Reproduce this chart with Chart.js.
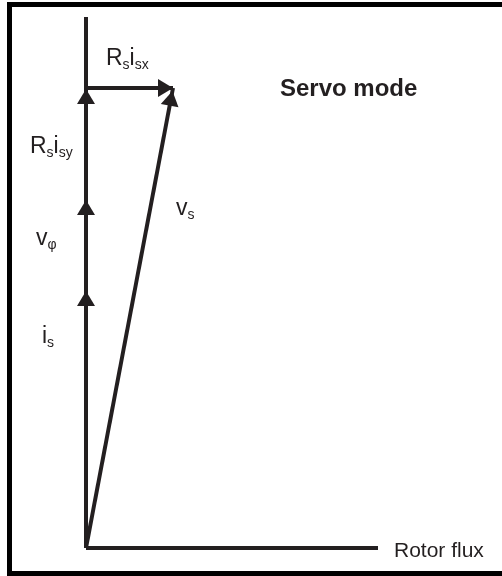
<!DOCTYPE html>
<html>
<head>
<meta charset="utf-8">
<script src="https://cdn.jsdelivr.net/npm/chart.js@4"></script>
<style>
  body { margin: 0; background: #fff; }
  #wrap { width: 502px; height: 576px; position: relative; }
</style>
</head>
<body>
<div id="wrap"><canvas id="myChart"></canvas></div>
<script>
// vectors of the servo mode phasor diagram (origin = rotor flux axis start)
var vectorNames = ['i_s', 'v_phi', 'Rs_isy', 'Rs_isx', 'v_s'];
var vectorStartX = [0, 0, 0, 0, 0];
var vectorStartY = [0, 257, 348, 460, 0];
var vectorEndX = [0, 0, 0, 87, 87];
var vectorEndY = [257, 348, 460, 460, 460];

// axes
var axisNames = ['q axis', 'Rotor flux'];
var axisEndX = [0, 292];
var axisEndY = [531, 0];

// labels: parts of text, 1 = subscript
var labelParts = [
	[['R', 0], ['s', 1], ['i', 0], ['sx', 1]],
	[['R', 0], ['s', 1], ['i', 0], ['sy', 1]],
	[['v', 0], ['\u03C6', 1]],
	[['i', 0], ['s', 1]],
	[['v', 0], ['s', 1]]
];
var labelX = [20, -56, -50, -44, 90];
var labelY = [483, 395, 303, 205, 333];

var titleText = 'Servo mode';
var fluxText = 'Rotor flux';

var ink = '#231f20';

var datasets = [];
for (var i = 0; i < axisNames.length; i++) {
	datasets.push({
		label: axisNames[i],
		data: [{x: 0, y: 0}, {x: axisEndX[i], y: axisEndY[i]}],
		showLine: true,
		borderColor: ink,
		borderWidth: 4,
		pointRadius: 0,
		borderCapStyle: 'butt'
	});
}
for (var i = 0; i < vectorNames.length; i++) {
	datasets.push({
		label: vectorNames[i],
		data: [{x: vectorStartX[i], y: vectorStartY[i]}, {x: vectorEndX[i], y: vectorEndY[i]}],
		showLine: true,
		borderColor: ink,
		borderWidth: 4,
		pointRadius: 0,
		borderCapStyle: 'butt'
	});
}

var diagramPlugin = {
	id: 'diagram',
	afterDatasetsDraw: function (chart) {
		var c = chart.ctx;
		var xs = chart.scales.x, ys = chart.scales.y;
		c.save();
		// arrow heads
		c.fillStyle = ink;
		for (var i = 0; i < vectorNames.length; i++) {
			var x0 = xs.getPixelForValue(vectorStartX[i]), y0 = ys.getPixelForValue(vectorStartY[i]);
			var x1 = xs.getPixelForValue(vectorEndX[i]), y1 = ys.getPixelForValue(vectorEndY[i]);
			var a = Math.atan2(y1 - y0, x1 - x0);
			var gap = vectorNames[i] === 'v_s' ? 3 : (vectorNames[i] === 'Rs_isy' ? 1 : 0);
			var tx = x1 - gap * Math.cos(a), ty = y1 - gap * Math.sin(a);
			var len = 15, hw = 9;
			c.beginPath();
			c.moveTo(tx, ty);
			c.lineTo(tx - len * Math.cos(a) + hw * Math.sin(a), ty - len * Math.sin(a) - hw * Math.cos(a));
			c.lineTo(tx - len * Math.cos(a) - hw * Math.sin(a), ty - len * Math.sin(a) + hw * Math.cos(a));
			c.closePath();
			c.fill();
		}
		// labels with subscripts
		c.textBaseline = 'alphabetic';
		c.textAlign = 'left';
		for (var i = 0; i < labelParts.length; i++) {
			var px = xs.getPixelForValue(labelX[i]), py = ys.getPixelForValue(labelY[i]);
			for (var j = 0; j < labelParts[i].length; j++) {
				var part = labelParts[i][j];
				if (part[1]) {
					c.font = '14px "Liberation Sans", Arial, sans-serif';
					c.fillText(part[0], px, py + 4);
				} else {
					c.font = '23px "Liberation Sans", Arial, sans-serif';
					c.fillText(part[0], px, py);
				}
				px += c.measureText(part[0]).width;
			}
		}
		c.font = 'bold 24px "Liberation Sans", Arial, sans-serif';
		c.fillText(titleText, xs.getPixelForValue(194), ys.getPixelForValue(452));
		c.font = '21px "Liberation Sans", Arial, sans-serif';
		c.fillText(fluxText, xs.getPixelForValue(axisEndX[1] + 16), ys.getPixelForValue(-9));
		// frame
		c.strokeStyle = '#000';
		c.lineWidth = 5;
		c.strokeRect(9.5, 4.5, 500, 569);
		c.restore();
	}
};

var ctx = document.getElementById('myChart').getContext('2d');
var chart = new Chart(ctx, {
	type: 'scatter',
	data: { datasets: datasets },
	options: {
		responsive: true,
		maintainAspectRatio: false,
		animation: false,
		layout: { padding: 0 },
		plugins: { legend: { display: false }, tooltip: { enabled: false } },
		scales: {
			x: { type: 'linear', min: -86, max: 416, display: false },
			y: { type: 'linear', min: -28, max: 548, display: false }
		}
	},
	plugins: [diagramPlugin]
});
</script>
</body>
</html>
